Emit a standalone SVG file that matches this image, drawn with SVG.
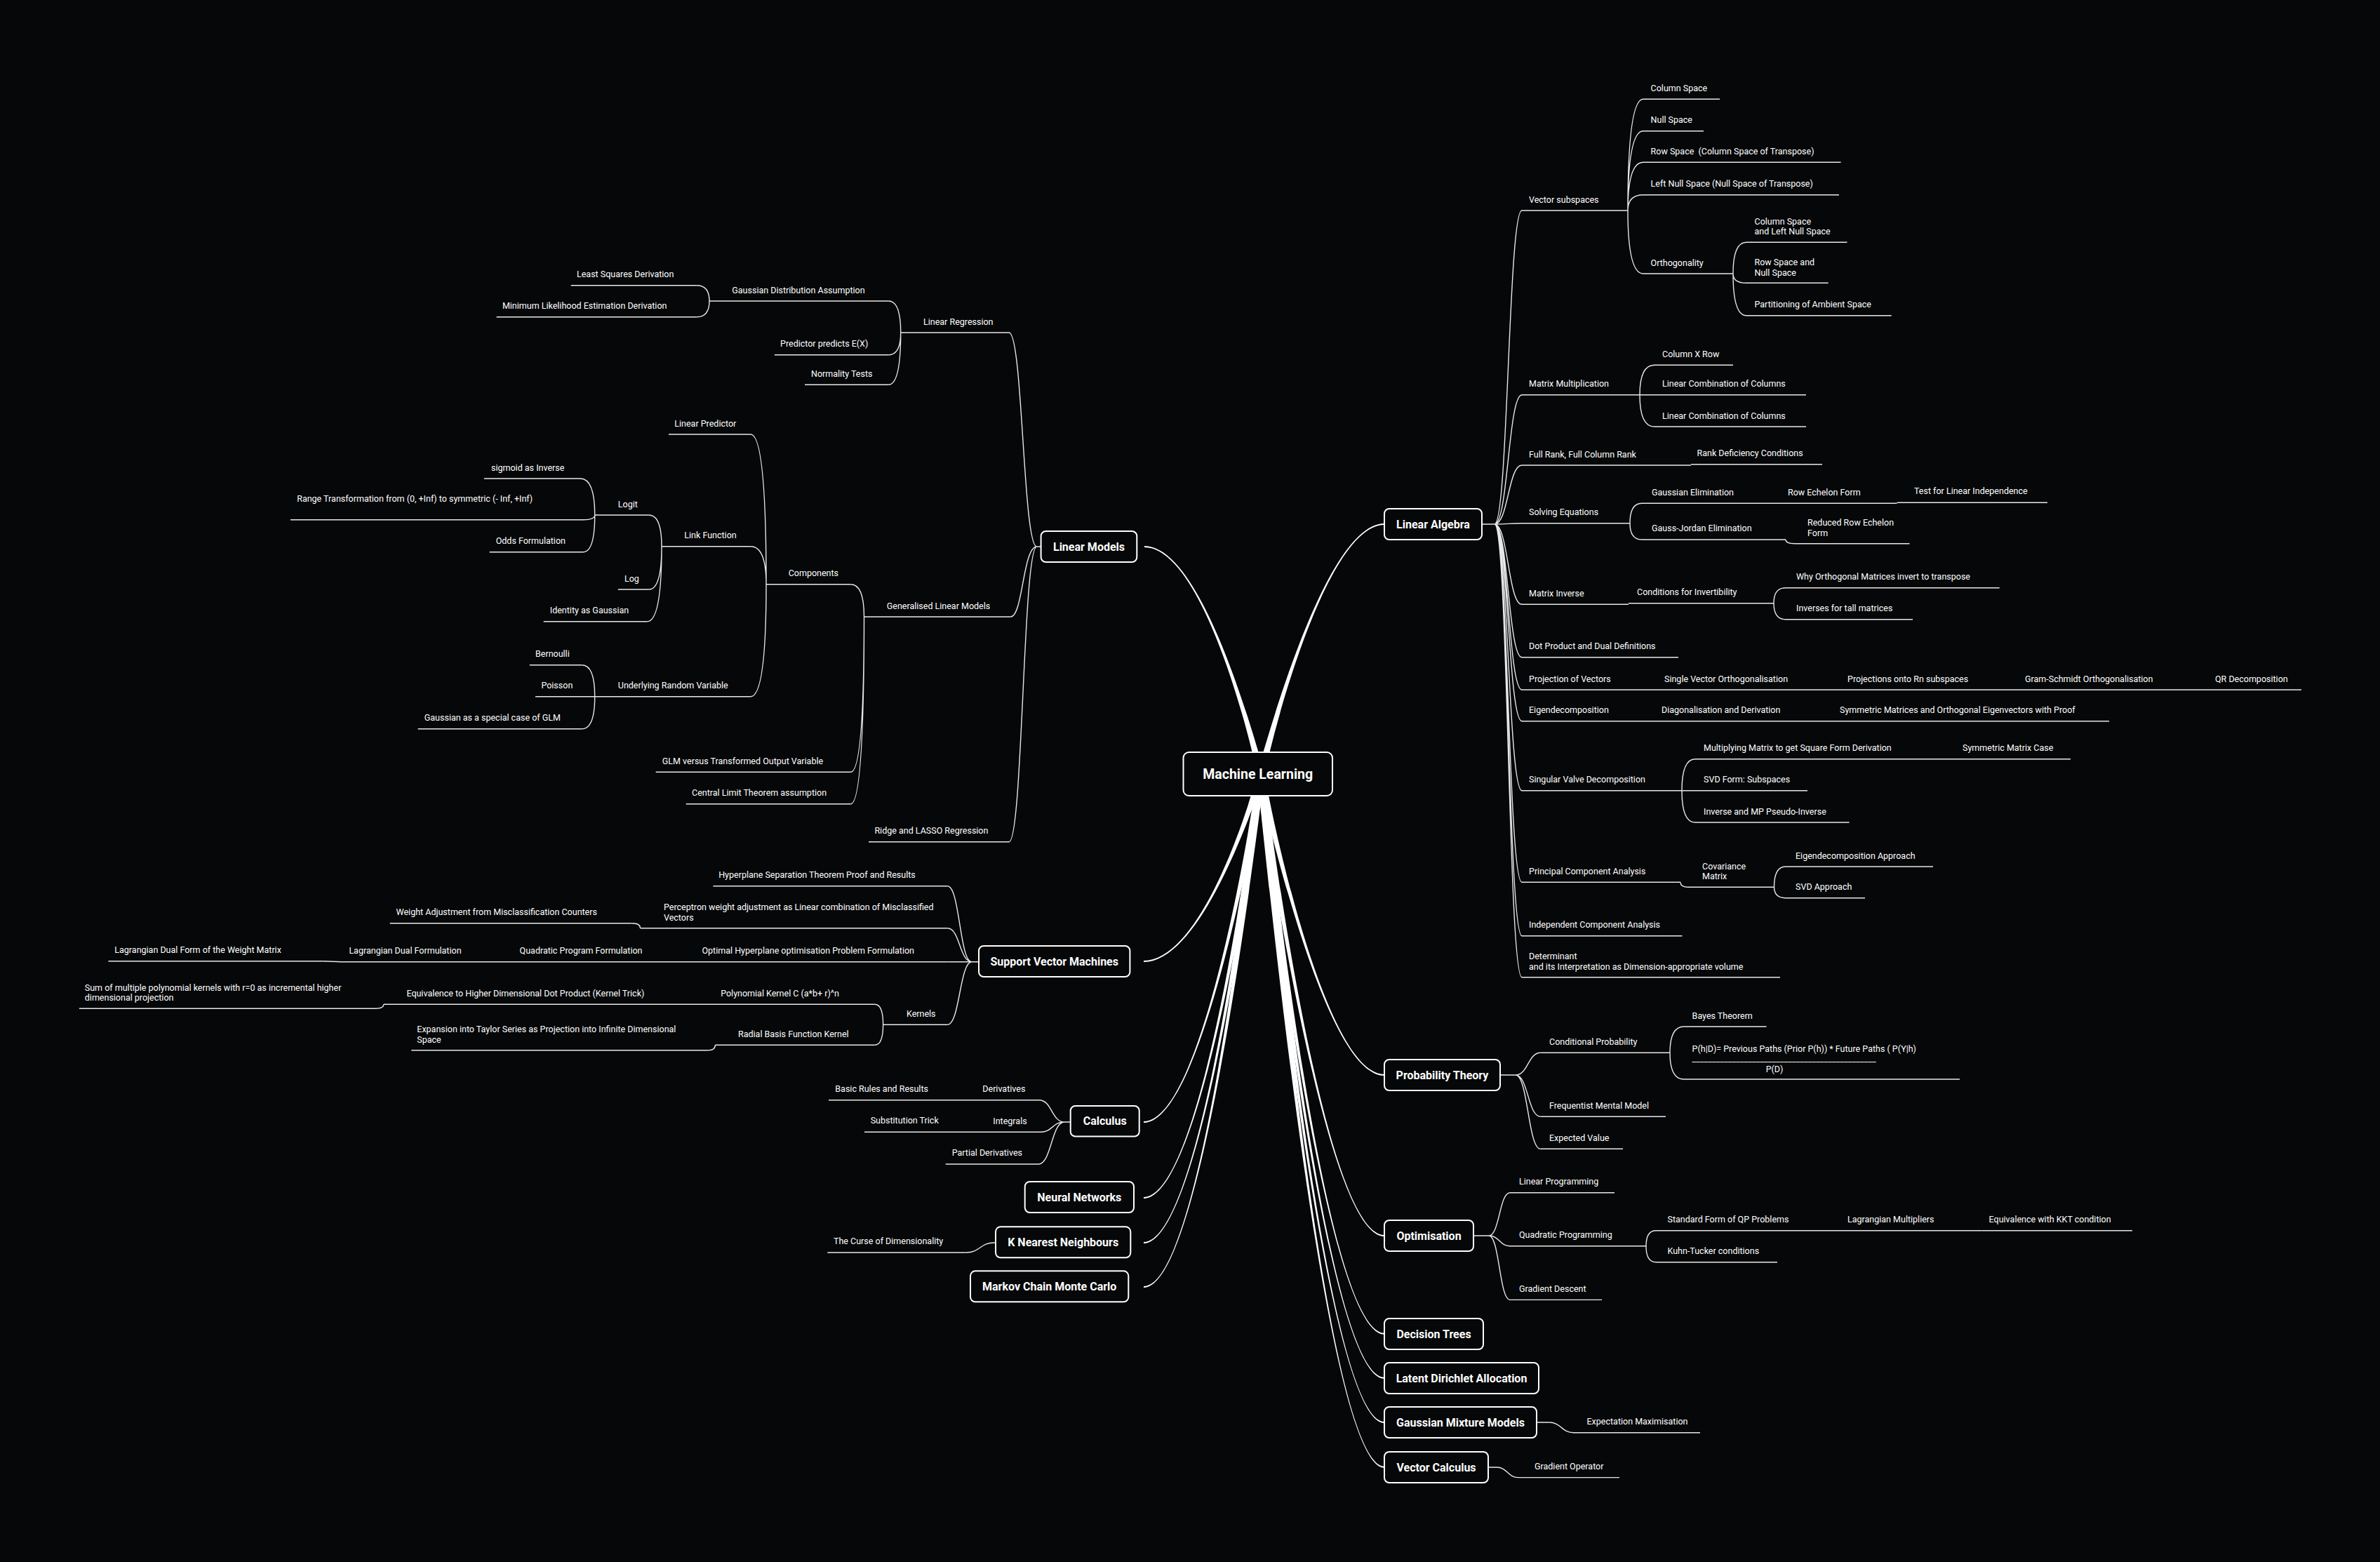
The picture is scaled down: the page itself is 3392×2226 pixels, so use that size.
<svg xmlns="http://www.w3.org/2000/svg" width="3392" height="2226" viewBox="0 0 3392 2226">
<style>
.bg{fill:#060709}
.t{font-family:Roboto,"Liberation Sans",Arial,sans-serif;font-size:12.5px;fill:#fff}
.m{font-family:Roboto,"Liberation Sans",Arial,sans-serif;font-size:16px;font-weight:700;fill:#fff;text-anchor:middle}
.r{font-size:19.5px}
.b{fill:#060709;stroke:#fff;stroke-width:2}
.u{fill:none;stroke:#e8e8e8;stroke-width:1.4}
.c{fill:none;stroke:#e8e8e8;stroke-width:1.4}
.mc{fill:#fff;stroke:none}
.pre{white-space:pre}
</style>
<rect class="bg" x="0" y="0" width="3392" height="2226"/>
<g id="connectors">
<g id="main-connectors">
<path class="mc" d="M1802.83 1104.41C1799.92 1103.7 1883 748 1973 748L1973 746C1883 746 1794.08 1102.3 1791.17 1101.59Z"/>
<path class="mc" d="M1802.84 1101.63C1799.92 1102.31 1721 778 1631 778L1631 780C1721 780 1794.08 1103.69 1791.16 1104.37Z"/>
<path class="mc" d="M1791.12 1104.18C1794.06 1103.59 1883 1533 1973 1533L1973 1531C1883 1531 1799.94 1102.41 1802.88 1101.82Z"/>
<path class="mc" d="M1791.05 1103.78C1794.03 1103.39 1883 1762 1973 1762L1973 1760C1883 1760 1799.97 1102.61 1802.95 1102.22Z"/>
<path class="mc" d="M1791.03 1103.64C1794.02 1103.32 1883 1901.7 1973 1901.7L1973 1899.7C1883 1899.7 1799.98 1102.68 1802.97 1102.36Z"/>
<path class="mc" d="M1791.03 1103.6C1794.01 1103.3 1883 1964.8 1973 1964.8L1973 1962.8C1883 1962.8 1799.99 1102.7 1802.97 1102.4Z"/>
<path class="mc" d="M1791.03 1103.56C1794.01 1103.28 1883 2028 1973 2028L1973 2026C1883 2026 1799.99 1102.72 1802.97 1102.44Z"/>
<path class="mc" d="M1791.02 1103.52C1794.01 1103.26 1883 2091.8 1973 2091.8L1973 2089.8C1883 2089.8 1799.99 1102.74 1802.98 1102.48Z"/>
<path class="mc" d="M1791.24 1101.34C1794.12 1102.17 1720 1369 1630 1369L1630 1371C1720 1371 1799.88 1103.83 1802.76 1104.66Z"/>
<path class="mc" d="M1791.07 1102.08C1794.04 1102.54 1720 1598 1630 1598L1630 1600C1720 1600 1799.96 1103.46 1802.93 1103.92Z"/>
<path class="mc" d="M1791.05 1102.24C1794.02 1102.62 1720 1706 1630 1706L1630 1708C1720 1708 1799.98 1103.38 1802.95 1103.76Z"/>
<path class="mc" d="M1791.04 1102.31C1794.02 1102.66 1720 1770 1630 1770L1630 1772C1720 1772 1799.98 1103.34 1802.96 1103.69Z"/>
<path class="mc" d="M1791.03 1102.37C1794.02 1102.69 1720 1833 1630 1833L1630 1835C1720 1835 1799.98 1103.31 1802.97 1103.63Z"/>
</g>
<g id="sub-connectors">
<path class="c" d="M2112 747H2130M2138 1532H2160M2100 1761H2122M2190 2027H2207.6M2121 2091H2133M1483.6 779H1477.7M1395 1370.7H1385M1525.7 1599H1517M1419 1771H1417"/>
<path class="c" d="M2130 747C2149.5 747 2149.5 300 2169 300M2130 747C2149.5 747 2149.5 562.7 2169 562.7M2130 747C2149.5 747 2149.5 663 2169 663M2130 747C2149.5 747 2149.5 745.7 2169 745.7M2130 747C2149.5 747 2149.5 861.3 2169 861.3M2130 747C2149.5 747 2149.5 936.7 2169 936.7M2130 747C2149.5 747 2149.5 983 2169 983M2130 747C2149.5 747 2149.5 1027.7 2169 1027.7M2130 747C2149.5 747 2149.5 1126.7 2169 1126.7M2130 747C2149.5 747 2149.5 1257.3 2169 1257.3M2130 747C2149.5 747 2149.5 1333.7 2169 1333.7M2130 747C2149.5 747 2149.5 1392.7 2169 1392.7"/>
<path class="c" d="M2320 300Q2320 141.3 2342 141.3M2320 300Q2320 186.7 2342 186.7M2320 300Q2320 231.3 2342 231.3M2320 300Q2320 277.7 2342 277.7M2320 300Q2320 390 2342 390"/>
<path class="c" d="M2470 390Q2470 345.3 2489 345.3M2470 390Q2470 403.3 2489 403.3M2470 390Q2470 449.7 2489 449.7"/>
<path class="c" d="M2337 562.7Q2337 520.3 2358 520.3M2337 562.7Q2337 608 2358 608"/>
<path class="c" d="M2323 745.7Q2323 717.3 2340 717.3M2323 745.7Q2323 769 2340 769M2545 769Q2545 774.7 2558 774.7"/>
<path class="c" d="M2528 859.7Q2528 837.7 2545 837.7M2528 859.7Q2528 882.7 2545 882.7"/>
<path class="c" d="M2397 1126.7Q2397 1081.7 2416 1081.7M2397 1126.7Q2397 1172 2416 1172"/>
<path class="c" d="M2395 1257.3Q2395 1264.3 2406 1264.3M2528.5 1264.3Q2528.5 1235 2545 1235M2528.5 1264.3Q2528.5 1279.7 2545 1279.7"/>
<path class="c" d="M2160 1532C2177.75 1532 2177.75 1500.3 2195.5 1500.3M2160 1532C2177.75 1532 2177.75 1591.3 2195.5 1591.3M2160 1532C2177.75 1532 2177.75 1637.3 2195.5 1637.3M2380 1500.3Q2380 1463 2400 1463M2380 1500.3Q2380 1538 2400 1538"/>
<path class="c" d="M2122 1761C2137 1761 2137 1699.7 2152 1699.7M2122 1761C2137 1761 2137 1775.7 2152 1775.7M2122 1761C2137 1761 2137 1852.4 2152 1852.4M2346 1775.7Q2346 1753.7 2360 1753.7M2346 1775.7Q2346 1798.7 2360 1798.7"/>
<path class="c" d="M2207.6 2027C2225.3 2027 2225.3 2041.8 2243 2041.8M2133 2091C2148.5 2091 2148.5 2105.6 2164 2105.6"/>
<path class="c" d="M1477.7 779C1457.85 779 1457.85 474 1438 474M1477.7 779C1457.85 779 1457.85 879 1440.4 879M1477.7 779C1457.85 779 1457.85 1199.7 1438 1199.7"/>
<path class="c" d="M1283.7 474Q1283.7 429 1266.3 429M1283.7 474Q1283.7 505.7 1266.3 505.7M1283.7 474Q1283.7 548.3 1266.3 548.3M1011 429Q1011 406.7 992.8 406.7M1011 429Q1011 451.7 992.8 451.7"/>
<path class="c" d="M1231.5 879Q1231.5 832.7 1212.4 832.7M1231.5 879Q1231.5 1100.3 1212.4 1100.3M1231.5 879Q1231.5 1145.7 1212.4 1145.7"/>
<path class="c" d="M1092 832.7Q1092 619 1069.8 619M1092 832.7Q1092 778.7 1069.8 778.7M1092 832.7Q1092 992.7 1069.8 992.7"/>
<path class="c" d="M943 778.7Q943 734 924.8 734M943 778.7Q943 840 924.8 840M943 778.7Q943 885.7 922.3 885.7"/>
<path class="c" d="M847.7 734Q847.7 682 827 682M847.7 734Q847.7 740.7 831 740.7M847.7 734Q847.7 786.7 831 786.7"/>
<path class="c" d="M847.7 992.7Q847.7 947.7 829.4 947.7M847.7 992.7Q847.7 1038.7 829.4 1038.7"/>
<path class="c" d="M1385 1370.7C1367.75 1370.7 1367.75 1262.7 1350.5 1262.7M1385 1370.7C1367.75 1370.7 1367.75 1322.7 1350.5 1322.7M1385 1370.7H1350.5M1385 1370.7C1367.75 1370.7 1367.75 1460.3 1350.5 1460.3"/>
<path class="c" d="M912.5 1322.7Q912.5 1315.7 900.7 1315.7M460.8 1369.7L487 1370.7M1258.6 1460.3Q1258.6 1431.3 1246.7 1431.3M1258.6 1460.3Q1258.6 1489.3 1246.7 1489.3M546.8 1431.3Q546.8 1437.3 535 1437.3M1019.3 1489.3Q1019.3 1496.7 1009.4 1496.7"/>
<path class="c" d="M1517 1599C1499 1599 1499 1567.7 1481 1567.7M1517 1599C1500 1599 1500 1613.3 1483 1613.3M1517 1599C1498.5 1599 1498.5 1659 1480 1659M1417 1771C1396.85 1771 1396.85 1785 1376.7 1785"/>
</g>
</g>
<g id="n-ml"><rect class="b" x="1686.5" y="1072" width="212.5" height="62" rx="8"/><text class="m r" x="1792.7" y="1110">Machine Learning</text></g>
<g id="n-la"><rect class="b" x="1973" y="725" width="139" height="44" rx="7"/><text class="m" x="2042.5" y="752.7">Linear Algebra</text></g>
<g id="n-prob"><rect class="b" x="1973" y="1510" width="165" height="44" rx="7"/><text class="m" x="2055.5" y="1537.7">Probability Theory</text></g>
<g id="n-opt"><rect class="b" x="1973" y="1739" width="127" height="44" rx="7"/><text class="m" x="2036.5" y="1766.7">Optimisation</text></g>
<g id="n-dt"><rect class="b" x="1973" y="1879" width="141" height="44" rx="7"/><text class="m" x="2043.5" y="1906.7">Decision Trees</text></g>
<g id="n-lda"><rect class="b" x="1973" y="1942" width="220" height="44" rx="7"/><text class="m" x="2083" y="1969.7">Latent Dirichlet Allocation</text></g>
<g id="n-gmm"><rect class="b" x="1973" y="2005" width="217" height="44" rx="7"/><text class="m" x="2081.5" y="2032.7">Gaussian Mixture Models</text></g>
<g id="n-vc"><rect class="b" x="1973" y="2069" width="148" height="44" rx="7"/><text class="m" x="2047" y="2096.7">Vector Calculus</text></g>
<g id="n-lm"><rect class="b" x="1483.6" y="757" width="136.7" height="44" rx="7"/><text class="m" x="1552" y="784.7">Linear Models</text></g>
<g id="n-svm"><rect class="b" x="1395" y="1348" width="215.4" height="44" rx="7"/><text class="m" x="1502.7" y="1375.7">Support Vector Machines</text></g>
<g id="n-calc"><rect class="b" x="1525.7" y="1576" width="98" height="43.5" rx="7"/><text class="m" x="1574.7" y="1603.4">Calculus</text></g>
<g id="n-nn"><rect class="b" x="1460.7" y="1684" width="155.3" height="44" rx="7"/><text class="m" x="1538.3" y="1711.7">Neural Networks</text></g>
<g id="n-knn"><rect class="b" x="1419" y="1748.3" width="192.3" height="44" rx="7"/><text class="m" x="1515.2" y="1776">K Nearest Neighbours</text></g>
<g id="n-mcmc"><rect class="b" x="1383" y="1811.3" width="225.3" height="44" rx="7"/><text class="m" x="1495.7" y="1839">Markov Chain Monte Carlo</text></g>

<g id="n-vs"><text class="t" x="2179" y="288.5">Vector subspaces</text><path class="u" d="M2169 300H2320"/></g>
<g id="n-cs"><text class="t" x="2352.6" y="129.8">Column Space</text><path class="u" d="M2342 141.3H2451"/></g>
<g id="n-ns"><text class="t" x="2352.6" y="175.2">Null Space</text><path class="u" d="M2342 186.7H2428"/></g>
<g id="n-rs"><text class="t pre" x="2352.6" y="219.8">Row Space  (Column Space of Transpose)</text><path class="u" d="M2342 231.3H2623.6"/></g>
<g id="n-lns"><text class="t" x="2352.6" y="266.2">Left Null Space (Null Space of Transpose)</text><path class="u" d="M2342 277.7H2621"/></g>
<g id="n-orth"><text class="t" x="2352.6" y="378.5">Orthogonality</text><path class="u" d="M2342 390H2470"/></g>
<g id="n-cslns"><text class="t" x="2500.5" y="320"><tspan x="2500.5">Column Space</tspan><tspan x="2500.5" dy="14.2">and Left Null Space</tspan></text><path class="u" d="M2489 345.3H2632.5"/></g>
<g id="n-rsns"><text class="t" x="2500.5" y="378.2"><tspan x="2500.5">Row Space and</tspan><tspan x="2500.5" dy="14.6">Null Space</tspan></text><path class="u" d="M2489 403.3H2605.7"/></g>
<g id="n-pas"><text class="t" x="2500.5" y="438.2">Partitioning of Ambient Space</text><path class="u" d="M2489 449.7H2695.7"/></g>
<g id="n-mm"><text class="t" x="2179" y="551.2">Matrix Multiplication</text><path class="u" d="M2169 562.7H2337"/></g>
<g id="n-cxr"><text class="t" x="2369" y="508.8">Column X Row</text><path class="u" d="M2358 520.3H2470"/></g>
<g id="n-lcc1"><text class="t" x="2369" y="551.2">Linear Combination of Columns</text><path class="u" d="M2337 562.7H2574"/></g>
<g id="n-lcc2"><text class="t" x="2369" y="596.5">Linear Combination of Columns</text><path class="u" d="M2358 608H2574"/></g>
<g id="n-fr"><text class="t" x="2179" y="651.5">Full Rank, Full Column Rank</text><path class="u" d="M2169 663H2410"/></g>
<g id="n-rdc"><text class="t" x="2418.5" y="650.2">Rank Deficiency Conditions</text><path class="u" d="M2410 661.7H2597"/></g>
<g id="n-se"><text class="t" x="2179" y="734.2">Solving Equations</text><path class="u" d="M2169 745.7H2323"/></g>
<g id="n-ge"><text class="t" x="2354" y="705.8">Gaussian Elimination</text><path class="u" d="M2340 717.3H2538"/></g>
<g id="n-ref"><text class="t" x="2548" y="705.8">Row Echelon Form</text><path class="u" d="M2538 717.3H2703.6"/></g>
<g id="n-tli"><text class="t" x="2728" y="703.8">Test for Linear Independence</text><path class="u" d="M2703.6 716.3H2918"/></g>
<g id="n-gje"><text class="t" x="2354" y="757.3">Gauss-Jordan Elimination</text><path class="u" d="M2340 769H2545"/></g>
<g id="n-rref"><text class="t" x="2576" y="748.8"><tspan x="2576">Reduced Row Echelon</tspan><tspan x="2576" dy="14.8">Form</tspan></text><path class="u" d="M2558 774.7H2721.5"/></g>
<g id="n-mi"><text class="t" x="2179" y="849.8">Matrix Inverse</text><path class="u" d="M2169 861.3H2321"/></g>
<g id="n-ci"><text class="t" x="2333" y="847.9">Conditions for Invertibility</text><path class="u" d="M2321 859.7H2528"/></g>
<g id="n-wom"><text class="t" x="2560" y="826.2">Why Orthogonal Matrices invert to transpose</text><path class="u" d="M2545 837.7H2849.7"/></g>
<g id="n-itm"><text class="t" x="2560" y="871.2">Inverses for tall matrices</text><path class="u" d="M2545 882.7H2726"/></g>
<g id="n-dp"><text class="t" x="2179" y="925.2">Dot Product and Dual Definitions</text><path class="u" d="M2169 936.7H2392"/></g>
<g id="n-pv"><text class="t" x="2179" y="971.5">Projection of Vectors</text><path class="u" d="M2169 983H2362"/></g>
<g id="n-svo"><text class="t" x="2372" y="971.5">Single Vector Orthogonalisation</text><path class="u" d="M2362 983H2623"/></g>
<g id="n-por"><text class="t" x="2633" y="971.5">Projections onto Rn subspaces</text><path class="u" d="M2623 983H2876"/></g>
<g id="n-gso"><text class="t" x="2886" y="971.5">Gram-Schmidt Orthogonalisation</text><path class="u" d="M2876 983H3147"/></g>
<g id="n-qr"><text class="t" x="3157" y="971.5">QR Decomposition</text><path class="u" d="M3147 983H3280"/></g>
<g id="n-ed"><text class="t" x="2179" y="1016.2">Eigendecomposition</text><path class="u" d="M2169 1027.7H2358"/></g>
<g id="n-dd"><text class="t" x="2368" y="1016.2">Diagonalisation and Derivation</text><path class="u" d="M2358 1027.7H2612"/></g>
<g id="n-sm"><text class="t" x="2622" y="1016.2">Symmetric Matrices and Orthogonal Eigenvectors with Proof</text><path class="u" d="M2612 1027.7H3006"/></g>
<g id="n-svd"><text class="t" x="2179" y="1115.2">Singular Valve Decomposition</text><path class="u" d="M2169 1126.7H2397"/></g>
<g id="n-mmsf"><text class="t" x="2428" y="1070.2">Multiplying Matrix to get Square Form Derivation</text><path class="u" d="M2416 1081.7H2787"/></g>
<g id="n-smc"><text class="t" x="2797" y="1070.2">Symmetric Matrix Case</text><path class="u" d="M2787 1081.7H2951"/></g>
<g id="n-svdf"><text class="t" x="2428" y="1115.2">SVD Form: Subspaces</text><path class="u" d="M2397 1126.7H2576"/></g>
<g id="n-mp"><text class="t" x="2428" y="1160.5">Inverse and MP Pseudo-Inverse</text><path class="u" d="M2416 1172H2635.6"/></g>
<g id="n-pca"><text class="t" x="2179" y="1245.8">Principal Component Analysis</text><path class="u" d="M2169 1257.3H2395"/></g>
<g id="n-cov"><text class="t" x="2426" y="1238.7"><tspan x="2426">Covariance</tspan><tspan x="2426" dy="14.2">Matrix</tspan></text><path class="u" d="M2406 1264.3H2528.5"/></g>
<g id="n-eda"><text class="t" x="2559" y="1223.5">Eigendecomposition Approach</text><path class="u" d="M2545 1235H2755"/></g>
<g id="n-sa"><text class="t" x="2559" y="1268.2">SVD Approach</text><path class="u" d="M2545 1279.7H2658"/></g>
<g id="n-ica"><text class="t" x="2179" y="1322.2">Independent Component Analysis</text><path class="u" d="M2169 1333.7H2397.5"/></g>
<g id="n-det"><text class="t" x="2179" y="1367.2"><tspan x="2179">Determinant</tspan><tspan x="2179" dy="14.5">and its Interpretation as Dimension-appropriate volume</tspan></text><path class="u" d="M2169 1392.7H2537"/></g>

<g id="n-cp"><text class="t" x="2208" y="1488.8">Conditional Probability</text><path class="u" d="M2195.5 1500.3H2380"/></g>
<g id="n-bt"><text class="t" x="2411.6" y="1451.5">Bayes Theorem</text><path class="u" d="M2400 1463H2517.5"/></g>
<g id="n-phd"><text class="t" x="2411.6" y="1498.7">P(h|D)= Previous Paths (Prior P(h)) * Future Paths ( P(Y|h)</text><text class="t" x="2411.6" y="1512.6" textLength="262" lengthAdjust="spacingAndGlyphs">______________________________________________</text><text class="t" x="2516.7" y="1527.7">P(D)</text><path class="u" d="M2400 1538H2793"/></g>
<g id="n-fmm"><text class="t" x="2208" y="1579.8">Frequentist Mental Model</text><path class="u" d="M2195.5 1591.3H2374"/></g>
<g id="n-ev"><text class="t" x="2208" y="1625.8">Expected Value</text><path class="u" d="M2195.5 1637.3H2313"/></g>

<g id="n-lp"><text class="t" x="2165" y="1688.2">Linear Programming</text><path class="u" d="M2152 1699.7H2301"/></g>
<g id="n-qp"><text class="t" x="2165" y="1764.2">Quadratic Programming</text><path class="u" d="M2152 1775.7H2346"/></g>
<g id="n-sf"><text class="t" x="2376.5" y="1742.2">Standard Form of QP Problems</text><path class="u" d="M2360 1753.7H2623"/></g>
<g id="n-lmul"><text class="t" x="2633" y="1742.2">Lagrangian Multipliers</text><path class="u" d="M2623 1753.7H2824.6"/></g>
<g id="n-kkt"><text class="t" x="2834.6" y="1742.2">Equivalence with KKT condition</text><path class="u" d="M2824.6 1753.7H3039"/></g>
<g id="n-kt"><text class="t" x="2376.5" y="1787.2">Kuhn-Tucker conditions</text><path class="u" d="M2360 1798.7H2533"/></g>
<g id="n-gd"><text class="t" x="2165" y="1840.9">Gradient Descent</text><path class="u" d="M2152 1852.4H2283"/></g>
<g id="n-em"><text class="t" x="2261.5" y="2030.3">Expectation Maximisation</text><path class="u" d="M2243 2041.8H2423"/></g>
<g id="n-go"><text class="t" x="2187" y="2094.1">Gradient Operator</text><path class="u" d="M2164 2105.6H2308"/></g>

<g id="n-lr"><text class="t" x="1316" y="462.5">Linear Regression</text><path class="u" d="M1283.7 474H1438"/></g>
<g id="n-gda"><text class="t" x="1043.3" y="417.5">Gaussian Distribution Assumption</text><path class="u" d="M1011 429H1266.3"/></g>
<g id="n-lsd"><text class="t" x="822" y="395.2">Least Squares Derivation</text><path class="u" d="M813.7 406.7H992.8"/></g>
<g id="n-mle"><text class="t" x="715.9" y="440.2">Minimum Likelihood Estimation Derivation</text><path class="u" d="M707.6 451.7H992.8"/></g>
<g id="n-ppe"><text class="t" x="1112" y="494.2">Predictor predicts E(X)</text><path class="u" d="M1103.8 505.7H1266.3"/></g>
<g id="n-nt"><text class="t" x="1156" y="536.8">Normality Tests</text><path class="u" d="M1147 548.3H1266.3"/></g>
<g id="n-glm"><text class="t" x="1263.8" y="867.5">Generalised Linear Models</text><path class="u" d="M1231.5 879H1440.4"/></g>
<g id="n-comp"><text class="t" x="1123.7" y="821.2">Components</text><path class="u" d="M1092 832.7H1212.4"/></g>
<g id="n-lpr"><text class="t" x="961.3" y="607.5">Linear Predictor</text><path class="u" d="M953 619H1069.8"/></g>
<g id="n-lf"><text class="t" x="975.3" y="767.2">Link Function</text><path class="u" d="M943 778.7H1069.8"/></g>
<g id="n-logit"><text class="t" x="880.8" y="722.5">Logit</text><path class="u" d="M847.7 734H924.8"/></g>
<g id="n-sig"><text class="t" x="700" y="670.5">sigmoid as Inverse</text><path class="u" d="M690 682H827"/></g>
<g id="n-range"><text class="t" x="423.2" y="715.4">Range Transformation from (0, +Inf) to symmetric (- Inf, +Inf)</text><path class="u" d="M414 740.7H831"/></g>
<g id="n-odds"><text class="t" x="706.7" y="775.2">Odds Formulation</text><path class="u" d="M697.6 786.7H831"/></g>
<g id="n-log"><text class="t" x="890" y="828.5">Log</text><path class="u" d="M880.8 840H924.8"/></g>
<g id="n-idg"><text class="t" x="783.8" y="874.2">Identity as Gaussian</text><path class="u" d="M774.7 885.7H922.3"/></g>
<g id="n-urv"><text class="t" x="880.8" y="981.2">Underlying Random Variable</text><path class="u" d="M847.7 992.7H1069.8"/></g>
<g id="n-bern"><text class="t" x="763" y="936.2">Bernoulli</text><path class="u" d="M754.8 947.7H829.4"/></g>
<g id="n-poi"><text class="t" x="771.4" y="981.2">Poisson</text><path class="u" d="M763 992.7H847.7"/></g>
<g id="n-gsc"><text class="t" x="604.8" y="1027.2">Gaussian as a special case of GLM</text><path class="u" d="M595.6 1038.7H829.4"/></g>
<g id="n-glmv"><text class="t" x="943.8" y="1088.8">GLM versus Transformed Output Variable</text><path class="u" d="M934.7 1100.3H1212.4"/></g>
<g id="n-clt"><text class="t" x="986" y="1134.2">Central Limit Theorem assumption</text><path class="u" d="M977.8 1145.7H1212.4"/></g>
<g id="n-ridge"><text class="t" x="1246.4" y="1188.2">Ridge and LASSO Regression</text><path class="u" d="M1238 1199.7H1438"/></g>

<g id="n-hst"><text class="t" x="1024.2" y="1251.2">Hyperplane Separation Theorem Proof and Results</text><path class="u" d="M1016.4 1262.7H1350.5"/></g>
<g id="n-perc"><text class="t" x="946" y="1297.2"><tspan x="946">Perceptron weight adjustment as Linear combination of Misclassified</tspan><tspan x="946" dy="14.5">Vectors</tspan></text><path class="u" d="M912.5 1322.7H1350.5"/></g>
<g id="n-wa"><text class="t" x="564.6" y="1304.2">Weight Adjustment from Misclassification Counters</text><path class="u" d="M555.7 1315.7H900.7"/></g>
<g id="n-oh"><text class="t" x="1000.5" y="1359.2">Optimal Hyperplane optimisation Problem Formulation</text><path class="u" d="M990 1370.7H1350.5"/></g>
<g id="n-qpf"><text class="t" x="740.6" y="1359.2">Quadratic Program Formulation</text><path class="u" d="M730 1370.7H990"/></g>
<g id="n-ldf"><text class="t" x="497.4" y="1359.2">Lagrangian Dual Formulation</text><path class="u" d="M487 1370.7H730"/></g>
<g id="n-ldfw"><text class="t" x="163.3" y="1358.2">Lagrangian Dual Form of the Weight Matrix</text><path class="u" d="M154.4 1369.7H460.8"/></g>
<g id="n-ker"><text class="t" x="1292" y="1449.4">Kernels</text><path class="u" d="M1258.6 1460.3H1350.5"/></g>
<g id="n-pk"><text class="t" x="1027.2" y="1419.8">Polynomial Kernel C (a*b+ r)^n</text><path class="u" d="M1017 1431.3H1246.7"/></g>
<g id="n-ehd"><text class="t" x="579.4" y="1420.4">Equivalence to Higher Dimensional Dot Product (Kernel Trick)</text><path class="u" d="M546.8 1431.3H1017"/></g>
<g id="n-sum"><text class="t" x="120.8" y="1411.8"><tspan x="120.8">Sum of multiple polynomial kernels with r=0 as incremental higher</tspan><tspan x="120.8" dy="14.5">dimensional projection</tspan></text><path class="u" d="M112.9 1437.3H535"/></g>
<g id="n-rbf"><text class="t" x="1052" y="1478.2">Radial Basis Function Kernel</text><path class="u" d="M1019.3 1489.3H1246.7"/></g>
<g id="n-tay"><text class="t" x="594.3" y="1471.2"><tspan x="594.3">Expansion into Taylor Series as Projection into Infinite Dimensional</tspan><tspan x="594.3" dy="14.5">Space</tspan></text><path class="u" d="M586.3 1496.7H1009.4"/></g>

<g id="n-der"><text class="t" x="1400.3" y="1556">Derivatives</text><path class="u" d="M1390 1567.7H1481"/></g>
<g id="n-brr"><text class="t" x="1190.3" y="1556">Basic Rules and Results</text><path class="u" d="M1181 1567.7H1390"/></g>
<g id="n-int"><text class="t" x="1415.3" y="1602.2">Integrals</text><path class="u" d="M1405 1613.3H1483"/></g>
<g id="n-st"><text class="t" x="1240.7" y="1601.2">Substitution Trick</text><path class="u" d="M1232 1613.3H1405"/></g>
<g id="n-pd"><text class="t" x="1356.7" y="1647.3">Partial Derivatives</text><path class="u" d="M1347.7 1659H1480"/></g>
<g id="n-cod"><text class="t" x="1188" y="1773.3">The Curse of Dimensionality</text><path class="u" d="M1179.3 1785H1376.7"/></g>
</svg>
